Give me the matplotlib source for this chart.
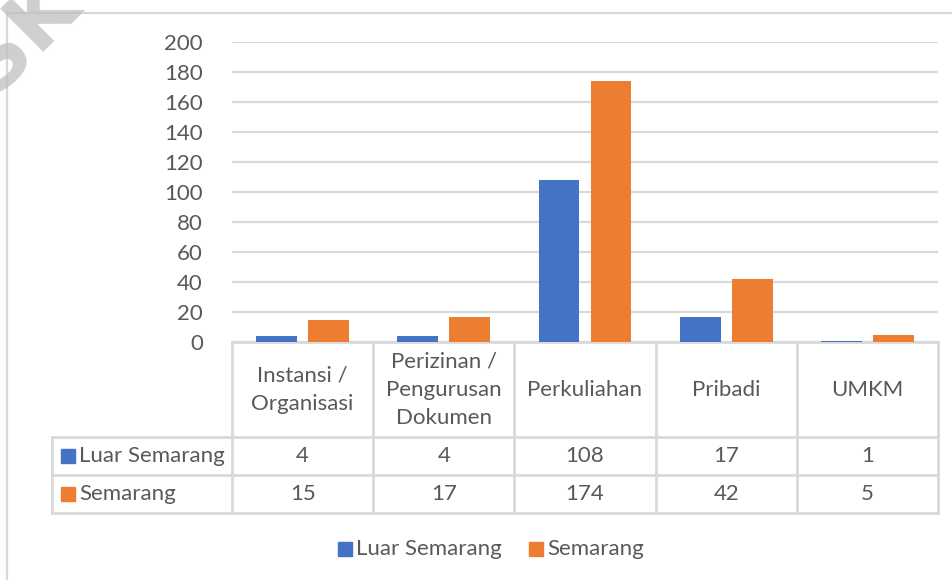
import matplotlib
matplotlib.use("Agg")
import matplotlib.pyplot as plt
from matplotlib.lines import Line2D
from matplotlib.patches import Rectangle

categories = ["Instansi /\nOrganisasi", "Perizinan /\nPengurusan\nDokumen", "Perkuliahan", "Pribadi", "UMKM"]
series_names = ["Luar Semarang", "Semarang"]
luar_semarang = [4, 4, 108, 17, 1]
semarang = [15, 17, 174, 42, 5]
yticks = [0, 20, 40, 60, 80, 100, 120, 140, 160, 180, 200]

BLUE = "#4472C4"
ORANGE = "#ED7D31"
GRID = "#D9D9D9"
TXT = "#595959"
FONT = "Lato"
FS = 16

W, H = 953, 580
fig = plt.figure(figsize=(W / 100, H / 100), dpi=100)

# overlay axes in pixel coordinates
ov = fig.add_axes([0, 0, 1, 1])
ov.set_xlim(0, W)
ov.set_ylim(H, 0)
ov.axis("off")

# main plot area
x0, x1, ytop, ybot = 232, 938, 42, 342
ax = fig.add_axes([x0 / W, (H - ybot) / H, (x1 - x0) / W, (ybot - ytop) / H])
n = len(categories)
ax.set_xlim(-0.5, n - 0.5)
ax.set_ylim(0, 200)
ax.set_yticks(yticks)
ax.set_yticklabels([str(v) for v in yticks], fontfamily=FONT, fontsize=FS, color=TXT)
ax.tick_params(axis="y", length=0, pad=21)
ax.set_xticks([])
for s in ax.spines.values():
    s.set_visible(False)
ax.grid(axis="y", color=GRID, linewidth=1.6)
ax.set_axisbelow(True)
ax.patch.set_alpha(0)

bw = 0.29
off = 0.184
xs = list(range(n))
ax.bar([x - off for x in xs], luar_semarang, width=bw, color=BLUE, zorder=3)
ax.bar([x + off for x in xs], semarang, width=bw, color=ORANGE, zorder=3)

# data table
colx = [x0 + i * (x1 - x0) / n for i in range(n + 1)]
lx = 52
yh0, yh1, yr1, yr2 = 342, 437, 475, 513
lw = 2.0
ov.add_line(Line2D([x0, x1], [yh0, yh0], color=GRID, lw=lw))
for y in (yh1, yr1, yr2):
    ov.add_line(Line2D([lx, x1], [y, y], color=GRID, lw=lw))
for cx in colx:
    ov.add_line(Line2D([cx, cx], [yh0, yr2], color=GRID, lw=lw))
ov.add_line(Line2D([lx, lx], [yh1, yr2], color=GRID, lw=lw))

for i, c in enumerate(categories):
    cx = (colx[i] + colx[i + 1]) / 2
    ov.text(cx, (yh0 + yh1) / 2, c, ha="center", va="center", fontfamily=FONT,
            fontsize=FS, color=TXT, linespacing=1.5)
    ov.text(cx, (yh1 + yr1) / 2, str(luar_semarang[i]), ha="center", va="center",
            fontfamily=FONT, fontsize=FS, color=TXT)
    ov.text(cx, (yr1 + yr2) / 2, str(semarang[i]), ha="center", va="center",
            fontfamily=FONT, fontsize=FS, color=TXT)

for (ya, yb), name, col in (((yh1, yr1), series_names[0], BLUE), ((yr1, yr2), series_names[1], ORANGE)):
    yc = (ya + yb) / 2
    ov.add_patch(Rectangle((61, yc - 7), 14, 14, color=col))
    ov.text(79, yc, name, ha="left", va="center", fontfamily=FONT, fontsize=FS, color=TXT)

# legend
ly = 549
for sx, name, col in ((338, series_names[0], BLUE), (529, series_names[1], ORANGE)):
    ov.add_patch(Rectangle((sx, ly - 7), 14, 14, color=col))
    ov.text(sx + 18, ly, name, ha="left", va="center", fontfamily=FONT, fontsize=FS, color=TXT)

# chart border
ov.add_line(Line2D([7, W], [13, 13], color=GRID, lw=1.6))
ov.add_line(Line2D([7, 7], [13, H], color=GRID, lw=1.6))

# watermark
ov.text(22, 35, "SK", rotation=45, ha="center", va="center", fontfamily="DejaVu Sans",
        fontsize=60, color="#BFBFBF", alpha=0.75, fontweight="bold")

fig.savefig("out.png", dpi=100)
